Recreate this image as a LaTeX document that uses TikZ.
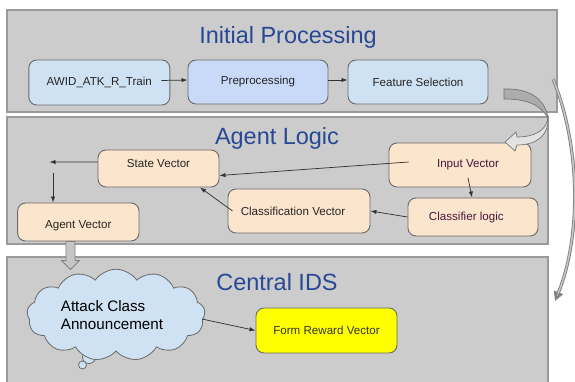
\documentclass[tikz,border=0pt]{standalone}
\usepackage{fontspec}
\setmainfont{Liberation Sans}
\usetikzlibrary{arrows.meta,calc,shapes.symbols}
\definecolor{panelgray}{HTML}{CCCCCC}
\definecolor{panelline}{HTML}{9A9A9A}
\definecolor{boxline}{HTML}{6B6B6B}
\definecolor{lightblue}{HTML}{CFE2F3}
\definecolor{paleblue}{HTML}{C9DAF8}
\definecolor{peach}{HTML}{FCE5CD}
\definecolor{titleblue}{RGB}{40,72,150}
\definecolor{plum}{HTML}{45183A}
\definecolor{sunny}{HTML}{FFFF00}

\begin{document}
\begin{tikzpicture}[x=0.75pt,y=-0.75pt,
  sz/.style 2 args={minimum width={#1*0.75pt}, minimum height={#2*0.75pt}},
  panel/.style={draw=panelline, fill=panelgray, line width=0.8pt, inner sep=0pt},
  title/.style={anchor=base, text=titleblue, font=\fontsize{17.6}{20}\selectfont},
  box/.style={draw=boxline, rounded corners=6pt, line width=0.7pt, inner sep=0pt,
    text=black!85, font=\fontsize{8.7}{10}\selectfont},
  link/.style={draw=black!80, line width=0.55pt, -{Latex[length=4.5pt,width=3.2pt]}},
  blockarrow/.style={draw=black!50, fill=gray!45, line width=0.6pt}
]
\useasboundingbox (0,0) rectangle (575,382);
\fill[white] (0,0) rectangle (575,382);

% the three stages
\node[panel, sz={550}{102}] (p1) at (282,61) {};
\node[panel, sz={541}{127}] (p2) at (277.5,180.5) {};
\node[panel, sz={541}{135}] (p3) at (277.5,324.5) {};
\node[title] (t1) at (288,43) {Initial Processing};
\node[title] (t2) at (277,144) {Agent Logic};
\node[title] (t3) at (277,290) {Central IDS};

% initial processing chain
\node[box, fill=lightblue, sz={141}{45}] (awid) at (99.3,82.5) {AWID\_ATK\_R\_Train};
\node[box, fill=paleblue, sz={140}{44}] (pre) at (258,82) {Preprocessing};
\node[box, fill=lightblue, sz={140}{44}] (fs) at (418,82) {Feature Selection};
\draw[link] ([xshift=-6.75pt,yshift=1.5pt]awid.east) -- ([yshift=1.5pt]pre.west);
\draw[link] ([yshift=1.5pt]pre.east) -- ([yshift=1.5pt]fs.west);

% agent logic
\node[box, fill=peach, sz={121}{37}] (state) at (158.5,168.5)
  {\raisebox{4pt}[\height][\depth]{State Vector}};
\node[box, fill=peach, sz={142}{44}, text=plum] (input) at (460,165)
  {\hspace*{12pt}Input Vector};
\node[box, fill=peach, sz={142}{44}] (cls) at (299,211)
  {Classification Vector\hspace*{9pt}};
\node[box, fill=peach, sz={130}{38}, text=plum] (clogic) at (473,217)
  {Classifier logic\hspace*{10pt}};
\node[box, fill=peach, sz={121.4}{38}] (agent) at (78.3,222)
  {\raisebox{-3pt}[\height][\depth]{Agent Vector}};

\coordinate (split) at (49.5,162);
\coordinate (drop) at (53,173);
\draw[link] ([yshift=4.9pt]state.west) -- (split);
\draw[link] (drop) -- (drop |- agent.north);
\draw[link] ($(input.west)+(20,-3)$) -- ($(state.east)+(0,7)$);
\draw[link] ($(cls.west)+(5,0)$) -- ($(state.south)+(41.5,0)$);
\draw[link] ($(input.center)+(8,13)$) -- ($(clogic.north)+(-1,0)$);
\draw[link] (clogic.west) -- (cls.east);

% hand-off from the agent down to the central IDS
\coordinate (drophead) at ($(agent.south)+(-7.8,0)$);
\draw[blockarrow] ($(drophead)+(-4.5,0)$) -- ++(0,19) -- ++(-4.5,0) -- ++(9,9)
  -- ++(9,-9) -- ++(-4.5,0) -- ++(0,-19) -- cycle;

% central IDS
\draw[draw=boxline, fill=lightblue, line width=0.6pt] (89,357) circle[radius=4.9pt];
\draw[draw=boxline, fill=lightblue, line width=0.6pt] (82.5,365) circle[radius=3pt];
\node[cloud, cloud puffs=13, cloud puff arc=110, aspect=2.1, draw=boxline,
  fill=lightblue, line width=0.6pt, inner sep=0pt, sz={178}{84},
  align=left, font=\fontsize{11.4}{13}\selectfont] (cloud) at (116,315)
  {Attack Class\\Announcement\hspace*{6pt}};
\node[box, fill=sunny, sz={141}{45}, text=black!80] (reward) at (326.5,330.5)
  {Form Reward Vector};
\draw[link] ($(cloud.center)+(86,4)$) -- (reward.west);

% curved hand-off from feature selection into the agent
\coordinate (fsout) at (504,94);
\coordinate (inputin) at (505,142);
\filldraw[draw=black!55, line width=0.5pt, fill=gray!65]
  (504,89) .. controls (528,88) and (545,98) .. (548,118)
  .. controls (540,104) and (526,99) .. (504,99) -- cycle;
\filldraw[draw=black!55, line width=0.5pt, fill=panelgray!55!white]
  (548,118) .. controls (546,131) and (534,137) .. (517,137)
  -- (516,132) -- (inputin) -- (515,151) -- (517,145)
  .. controls (538,145) and (549,134) .. (548,118) -- cycle;

% long arc from the first stage down to the central IDS
\coordinate (arcstart) at (553,79);
\coordinate (arcend) at (555,301);
\draw[line width=2.4pt, draw=black!50,
  -{Triangle[length=7pt,width=7pt,fill=gray!40]}]
  (arcstart) .. controls (582,150) and (580,240) .. (arcend);
\draw[line width=1.1pt, draw=gray!45, shorten >=6pt]
  (arcstart) .. controls (582,150) and (580,240) .. (arcend);
\end{tikzpicture}
\end{document}
